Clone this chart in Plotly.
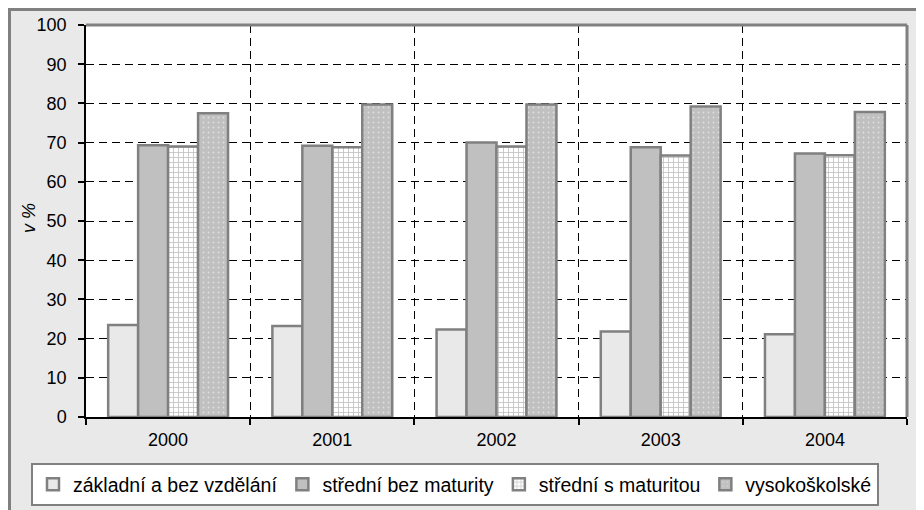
import plotly.graph_objects as go

years = ["2000", "2001", "2002", "2003", "2004"]
series_names = ["základní a bez vzdělání", "střední bez maturity", "střední s maturitou", "vysokoškolské"]
zakladni = [23.5, 23.2, 22.3, 21.8, 21.1]
stredni_bez = [69.3, 69.2, 70.0, 68.8, 67.2]
stredni_s = [69.0, 68.8, 69.0, 66.7, 66.8]
vysokoskolske = [77.5, 79.7, 79.7, 79.2, 77.8]
y_ticks = [0, 10, 20, 30, 40, 50, 60, 70, 80, 90, 100]

W, H = 924, 510
OFF = 8  # page body margin
L, R, T, B = 86 - OFF, 907 - OFF, 25 - OFF, 417 - OFF

def px_x(p):
    return (p - OFF - L) / (R - L)

def px_y(p):
    return (B - (p - OFF)) / (B - T)

BG = "#e9e9e9"
EDGE = "#808080"

fig = go.Figure()
styles = [
    dict(color="#e9e9e9", pattern=dict(shape="")),
    dict(color="#c0c0c0", pattern=dict(shape="")),
    dict(color="white", pattern=dict(shape="+", fgcolor="#808080", bgcolor="white", size=5, solidity=0.3)),
    dict(color="#c0c0c0", pattern=dict(shape=".", fgcolor="white", bgcolor="#c0c0c0", size=5, solidity=0.1)),
]
for name, vals, st in zip(series_names, [zakladni, stredni_bez, stredni_s, vysokoskolske], styles):
    fig.add_trace(go.Bar(
        x=years, y=vals, name=name,
        marker=dict(color=st["color"], pattern=st["pattern"], line=dict(color=EDGE, width=2.5)),
    ))

fig.update_layout(
    width=W, height=H,
    margin=dict(l=L, r=W - R, t=T, b=H - B, autoexpand=False),
    paper_bgcolor=BG, plot_bgcolor="white",
    barmode="group", bargap=0.27, bargroupgap=0,
    font=dict(family="Liberation Sans, Arial", color="black", size=18),
    showlegend=True,
    legend=dict(
        orientation="h", x=px_x(31), xanchor="left", y=px_y(463), yanchor="top",
        bgcolor="white", bordercolor=EDGE, borderwidth=2,
        font=dict(size=19.5), itemwidth=30, tracegroupgap=0,
    ),
    xaxis=dict(
        type="category", tickson="boundaries", showgrid=True, gridcolor="black",
        griddash="8px,5px", gridwidth=1,
        ticks="outside", ticklen=6, tickcolor="black", tickwidth=1.5,
        showline=True, linecolor="black", linewidth=1.5,
        ticklabelstandoff=6, tickfont=dict(size=18),
    ),
    yaxis=dict(
        range=[0, 100], tickvals=y_ticks, showgrid=True, gridcolor="black",
        griddash="8px,5px", gridwidth=1, zeroline=False,
        ticks="outside", ticklen=6, tickcolor="black", tickwidth=1.5,
        showline=True, linecolor="black", linewidth=1.5,
        ticklabelstandoff=8, tickfont=dict(size=18),
    ),
    shapes=[
        dict(type="rect", xref="paper", yref="paper",
             x0=px_x(9.5), x1=px_x(960), y0=px_y(9.5), y1=px_y(560),
             line=dict(color=EDGE, width=3), fillcolor="rgba(0,0,0,0)", layer="below"),
        dict(type="line", xref="paper", yref="paper", x0=0, x1=1, y0=1, y1=1,
             line=dict(color=EDGE, width=3)),
        dict(type="line", xref="paper", yref="paper", x0=1, x1=1, y0=0, y1=1,
             line=dict(color=EDGE, width=3)),
    ],
    annotations=[
        dict(text="<i>v %</i>", xref="paper", yref="paper", x=px_x(29), y=px_y(218),
             textangle=-90, showarrow=False, font=dict(size=18), xanchor="center", yanchor="middle"),
    ],
)

fig.write_html("out.html")
